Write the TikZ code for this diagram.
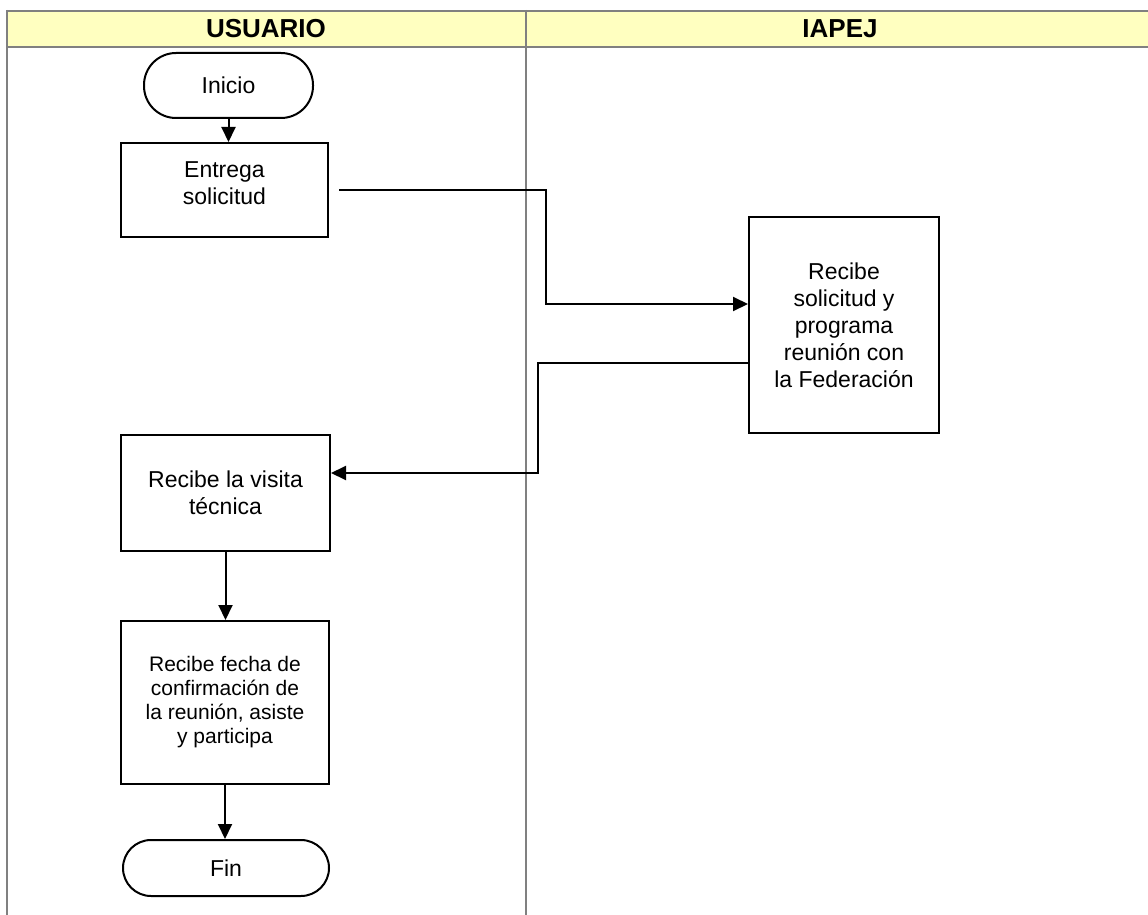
\documentclass[tikz,border=0pt]{standalone}
\usepackage{fontspec}
\setmainfont{Liberation Sans}
\usetikzlibrary{arrows.meta}
\definecolor{hdr}{RGB}{255,255,192}
\definecolor{lanegray}{RGB}{128,128,128}
\begin{document}
\begin{tikzpicture}[x=1pt,y=-1pt,
  lane/.style={draw=lanegray,line width=2pt},
  box/.style={draw=black,line width=2pt,fill=white,align=center,inner sep=0pt,font=\fontsize{23}{27}\selectfont},
  smallbox/.style={box,font=\fontsize{21}{24}\selectfont},
  flow/.style={draw=black,line width=2pt,-{Triangle[length=15pt,width=14pt]}},
  hdrtext/.style={font=\bfseries\fontsize{26}{30}\selectfont,inner sep=0pt}]
\useasboundingbox (0,0) rectangle (1148,915);
% header
\fill[hdr] (6.5,11) rectangle (1148,47);
\draw[lane] (6.5,11) -- (1148,11);
\draw[lane] (6.5,47) -- (1148,47);
\draw[lane] (6.5,10) -- (6.5,915);
\draw[lane] (525.5,10) -- (525.5,915);
\node[hdrtext] (hu) at (266,29) {USUARIO};
\node[hdrtext] (hi) at (840,29) {IAPEJ};
% nodes
\node[box,rounded corners=32pt,minimum width=169pt,minimum height=65pt] (inicio) at (228.5,85.5) {Inicio};
\node[box,minimum width=207pt,minimum height=94pt] (entrega) at (224.5,190) {Entrega\\solicitud\\[-13pt]};
\node[box,minimum width=190pt,minimum height=216pt] (recsol) at (844,325) {Recibe\\solicitud y\\programa\\reunión con\\la Federación};
\node[box,minimum width=209pt,minimum height=116pt] (visita) at (225.5,493) {Recibe la visita\\técnica};
\node[smallbox,minimum width=208pt,minimum height=163pt] (fecha) at (225,702.5) {Recibe fecha de\\confirmación de\\la reunión, asiste\\y participa};
\node[box,rounded corners=28pt,minimum width=206pt,minimum height=56pt] (fin) at (226,868) {Fin};
% connectors
\draw[flow] (inicio.south) -- (inicio.south |- entrega.north);
\draw[flow] ([xshift=10pt]entrega.east) -- ++(207,0) |- ([yshift=21pt]recsol.west);
\draw[flow] ([yshift=-38pt]recsol.west) -- ++(-210,0) |- ([yshift=20pt]visita.east);
\draw[flow] (visita.south) -- (visita.south |- fecha.north);
\draw[flow] (fecha.south) -- (fecha.south |- fin.north);
\end{tikzpicture}
\end{document}
